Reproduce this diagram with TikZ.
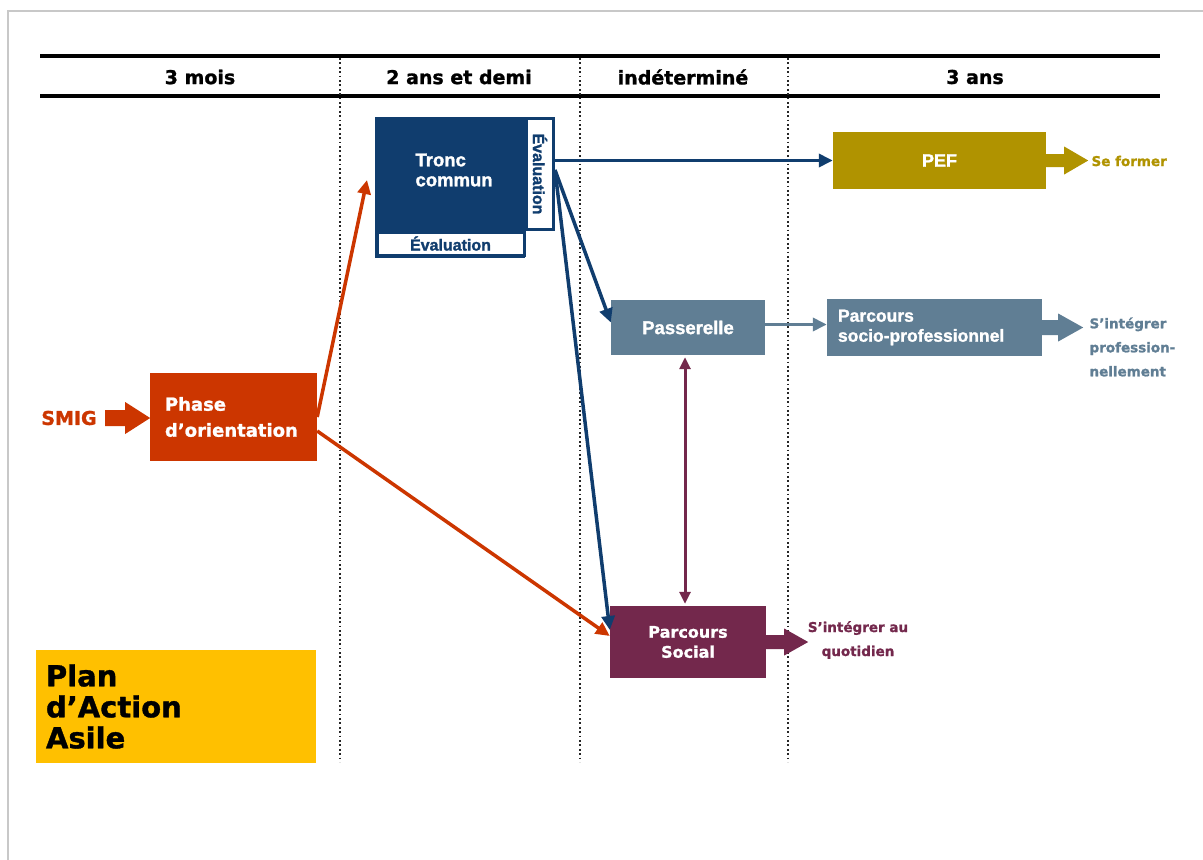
\documentclass[tikz,border=0pt]{standalone}
\usepackage{fontspec}
\setmainfont{DejaVu Sans}[BoldFeatures={FakeBold=1.2}]
\newfontfamily\narrowfont{Liberation Sans}[BoldFeatures={FakeBold=1.5}]
\usepackage{graphicx}
\usetikzlibrary{arrows.meta}

\definecolor{navyc}{RGB}{16,61,110}
\definecolor{slatec}{RGB}{96,126,148}
\definecolor{olivec}{RGB}{176,147,0}
\definecolor{rustc}{RGB}{204,54,0}
\definecolor{plumc}{RGB}{115,40,76}
\definecolor{goldc}{RGB}{255,192,0}
\definecolor{framec}{RGB}{200,200,200}

\newcommand{\boldsize}[2]{\bfseries\fontsize{#1}{#2}\selectfont}
% fat block arrow: colour, start, shaft length, head length, shaft half, head half
\newcommand{\fatarrow}[6]{\fill[#1] (#2) ++(0,-#5) -- ++(#3,0) -- ++(0,#5-#6)
  -- ++(#4,#6) -- ++(-#4,#6) -- ++(0,#5-#6) -- ++(-#3,0) -- cycle;}

\tikzset{
  hdr/.style={font=\boldsize{19}{22}},
  block/.style={inner sep=0pt, text=white, align=center},
  evalbox/.style={draw=navyc, line width=3pt, fill=white, inner sep=0pt,
    text=navyc, font=\narrowfont\boldsize{16}{18}},
  sep/.style={line width=1.8pt, black!85, dash pattern=on 1.8pt off 2.6pt},
  conn/.style={line width=3.5pt, -{Triangle[length=14pt,width=13pt]}},
  outtext/.style={font=\boldsize{13.5}{24}, align=left}
}

\begin{document}
\begin{tikzpicture}[x=1pt,y=-1pt]
  \useasboundingbox (0,0) rectangle (1203,860);
  \draw[framec, line width=1.2pt] (8,860) -- (8,11) -- (1203,11);

  % time line
  \draw[line width=3.5pt] (40,56) -- (1160,56);
  \draw[line width=3.5pt] (40,96) -- (1160,96);
  \foreach \x in {340,580,788}
    \draw[sep] (\x,58) -- (\x,762);
  \node[hdr] (h1) at (200,77) {3 mois};
  \node[hdr] (h2) at (459,77) {2 ans et demi};
  \node[hdr] (h3) at (683,77) {indéterminé};
  \node[hdr] (h4) at (975,77) {3 ans};

  % boxes
  \node[fill=navyc, minimum width=150pt, minimum height=141pt, inner sep=0pt] (tronc) at (450,187.5) {};
  \node[anchor=west, text=white, align=left, font=\narrowfont\boldsize{18.5}{20}] (tronctxt) at (412,170) {Tronc\\commun};
  \node[evalbox, minimum width=147pt, minimum height=23pt] (evalh) at (450.5,243.5) {Évaluation};
  \node[evalbox, minimum width=27pt, minimum height=111pt] (evalv) at (540,174) {\rotatebox{-90}{Évaluation}};

  \node[block, fill=olivec, minimum width=213pt, minimum height=57pt, font=\narrowfont\boldsize{18}{20}] (pef) at (939.5,160.5) {PEF};
  \node[block, fill=slatec, minimum width=154pt, minimum height=55pt, font=\narrowfont\boldsize{18.5}{20}] (passerelle) at (688,327.5) {Passerelle};
  \node[block, fill=slatec, minimum width=215pt, minimum height=57pt, text width=193pt, inner xsep=11pt, align=left, font=\narrowfont\boldsize{17.5}{20}] (socio) at (934.5,327.5) {Parcours\\socio-professionnel};
  \node[block, fill=rustc, minimum width=167pt, minimum height=88pt, text width=137pt, inner xsep=15pt, align=left, font=\boldsize{18}{26}] (phase) at (233.5,417) {Phase\\d’orientation};
  \node[block, fill=plumc, minimum width=156pt, minimum height=72pt, font=\boldsize{16}{20}] (social) at (688,642) {Parcours\\Social};
  \node[block, fill=goldc, text=black, minimum width=280pt, minimum height=113pt, text width=260pt, inner xsep=10pt, align=left, font=\boldsize{29}{31}] (plan) at (176,706.5) {Plan\\d’Action\\Asile};

  % labels outside
  \node[text=rustc, font=\boldsize{19}{22}] (smig) at (69,418) {SMIG};
  \node[outtext, text=olivec, anchor=west] (pefout) at (1088,161) {Se former};
  \node[outtext, text=slatec, anchor=west] (sociout) at (1086,347) {S’intégrer\\profession-\\nellement};
  \node[outtext, text=plumc, align=center] (socialout) at (858,640) {S’intégrer au\\quotidien};

  \fatarrow{rustc}{[xshift=5pt]smig.east}{20}{25}{8}{16}
  \fatarrow{olivec}{pef.east}{18}{24}{6.5}{14}
  \fatarrow{slatec}{socio.east}{16}{25}{7.5}{14}
  \fatarrow{plumc}{social.east}{18}{24}{7}{13.5}

  % connectors
  \coordinate (troncin) at (367,180);
  \begin{scope}[rustc]
    \draw[conn] (phase.east) -- (troncin);
    \draw[conn] ([yshift=-14pt]phase.east) -- ([yshift=6pt]social.west);
  \end{scope}
  \begin{scope}[navyc]
    \draw[conn] (evalv.east |- pef.west) -- (pef.west);
    \draw[conn] ([yshift=4pt]evalv.east) -- ([yshift=5pt]passerelle.west);
    \draw[conn] ([yshift=4pt]evalv.east) -- ([yshift=12pt]social.west);
  \end{scope}
  \draw[conn, slatec] ([yshift=3pt]passerelle.east) -- ([yshift=3pt]socio.west);
  \draw[plumc, line width=3pt, {Triangle[length=12pt,width=11pt]}-{Triangle[length=12pt,width=11pt]}, shorten <=2pt, shorten >=2pt]
    ([xshift=-3pt]passerelle.south) -- ([xshift=-3pt]social.north);
\end{tikzpicture}
\end{document}
